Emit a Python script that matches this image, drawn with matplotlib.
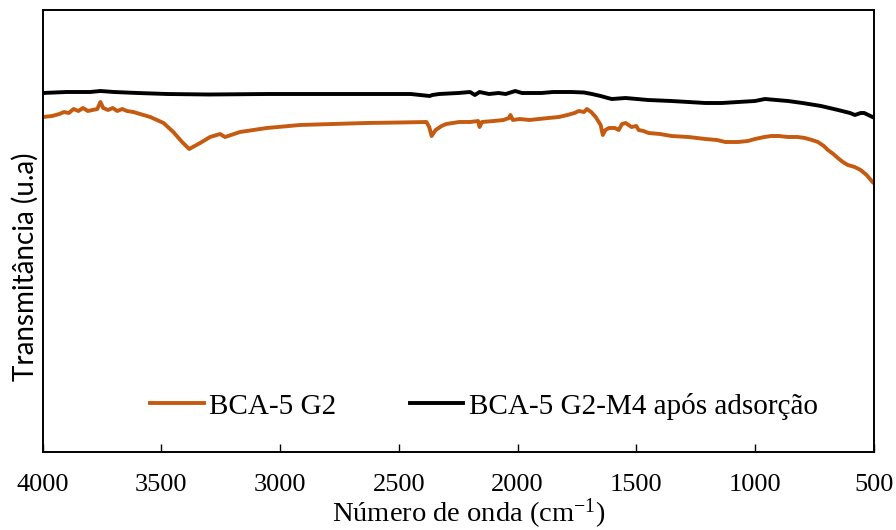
import matplotlib
matplotlib.use("Agg")
import matplotlib.pyplot as plt

# wavenumber (cm-1) and transmittance (arbitrary units)
wn_g2 = [4000, 3960, 3930, 3910, 3890, 3870, 3850, 3830, 3810, 3790, 3770, 3757,
         3745, 3725, 3705, 3686, 3665, 3645, 3618, 3590, 3547, 3491, 3450, 3413,
         3383, 3337, 3295, 3253, 3232, 3169, 3056, 2917, 2778, 2637, 2497, 2384,
         2372, 2362, 2345, 2320, 2300, 2246, 2200, 2166, 2160, 2150, 2100, 2060,
         2036, 2030, 2020, 1990, 1950, 1910, 1870, 1826, 1790, 1760, 1742, 1720,
         1708, 1690, 1671, 1650, 1641, 1630, 1615, 1590, 1574, 1560, 1545, 1520,
         1500, 1490, 1470, 1448, 1400, 1352, 1280, 1209, 1160, 1125, 1071, 1030,
         1000, 960, 932, 900, 861, 820, 790, 760, 735, 710, 693, 670, 651, 630,
         609, 580, 555, 530, 505]
t_g2 = [335, 336, 338, 340, 339, 343, 341, 344, 341, 342, 343, 350,
        344, 342, 344, 341, 343, 341, 340, 338, 335, 329, 320, 310,
        303, 309, 315, 318, 315, 320, 324, 327, 328, 329, 329.5, 330,
        325, 316, 322, 326, 328, 330, 330, 331, 325, 330, 331, 332,
        334, 337, 332, 333, 332, 333, 334, 335, 337, 339, 341, 340,
        343, 340, 335, 327, 317, 322, 324, 324, 322, 328, 329, 325,
        326, 322, 321, 319, 318, 316, 315, 313, 312, 310, 310, 311,
        313, 315, 316, 316, 315, 315, 314, 312, 310, 306, 302, 298, 294, 290,
        287, 285, 282, 277, 270]

wn_m4 = [4000, 3900, 3800, 3757, 3700, 3600, 3475, 3300, 3056, 2800, 2637, 2450,
         2370, 2359, 2330, 2250, 2200, 2180, 2160, 2120, 2080, 2050, 2010, 1981,
         1900, 1850, 1771, 1720, 1687, 1650, 1620, 1603, 1545, 1450, 1352, 1280,
         1209, 1140, 1071, 1000, 958, 910, 861, 800, 722, 650, 600, 579, 555,
         540, 505]
t_m4 = [359, 360, 360, 361, 360, 359, 358, 357.5, 358, 358, 358, 358,
        356, 357, 358, 359, 360, 357, 360, 358, 359, 358, 361, 359,
        359, 360, 360, 359.5, 358, 356, 354, 353, 354, 352, 351, 350,
        349, 349, 350, 351, 353, 352, 351, 349, 346, 342, 339, 337, 339,
        339, 335]

labels = ["BCA-5 G2", "BCA-5 G2-M4 após adsorção"]
colors = ["#C55A11", "black"]

plt.rcParams["font.family"] = ["Liberation Serif", "DejaVu Serif"]
plt.rcParams["mathtext.default"] = "regular"

fig = plt.figure(figsize=(8.96, 5.30), dpi=100)
ax = fig.add_axes([42.7 / 896, 1 - 452 / 530, 831 / 896, 442 / 530])

ax.plot(wn_g2, t_g2, color=colors[0], lw=2.8, label=labels[0])
ax.plot(wn_m4, t_m4, color=colors[1], lw=2.8, label=labels[1])

ax.set_xlim(4000, 500)
ax.set_ylim(0, 442)
ax.set_xticks(range(4000, 499, -500))
ax.set_yticks([])
ax.tick_params(axis="x", direction="in", length=6, width=1, labelsize=19, pad=16)
for s in ax.spines.values():
    s.set_linewidth(1.4)

ax.set_xlabel("Número de onda (cm$^{-1}$)", fontsize=20.5)
ax.xaxis.set_label_coords(0.513, -0.102)
ax.set_ylabel("Transmitância (u.a)", fontsize=20, family=["Lato", "DejaVu Sans"])
ax.yaxis.set_label_coords(-0.005, 0.42)

ax.legend(loc="center", bbox_to_anchor=(484 / 896, 1 - 406 / 530),
          bbox_transform=fig.transFigure, ncol=2, frameon=False, fontsize=21,
          handlelength=1.85, handletextpad=0.2, columnspacing=2.5,
          borderpad=0, borderaxespad=0)

fig.savefig("out.png", dpi=100)
